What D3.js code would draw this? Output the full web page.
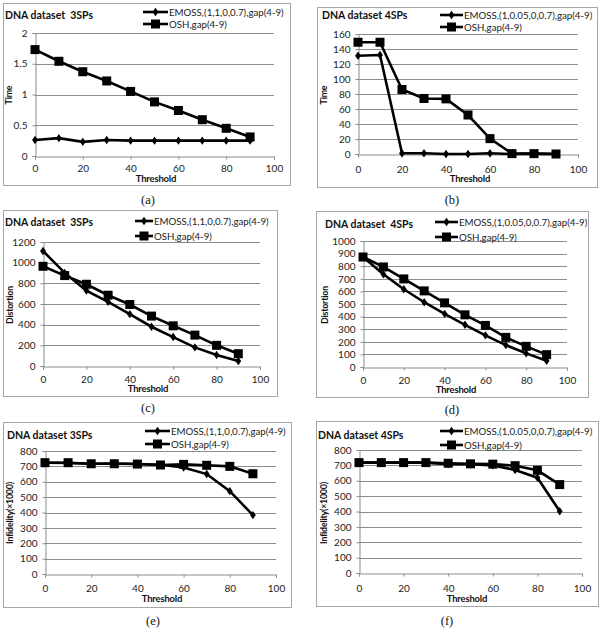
<!DOCTYPE html>
<html>
<head>
<meta charset="utf-8">
<script src="https://cdn.jsdelivr.net/npm/d3@7"></script>
<style>
  html, body { margin: 0; padding: 0; background: #fff; }
  svg { display: block; }
</style>
</head>
<body>
<svg id="chart" width="600" height="628"></svg>
<script>
// thresholds shared by all six panels
const thresholds = [0, 10, 20, 30, 40, 50, 60, 70, 80, 90];
const xTicks = [0, 20, 40, 60, 80, 100];

// (a) time, 3 SPs
const timeEmoss3 = [0.26, 0.29, 0.23, 0.26, 0.25, 0.25, 0.25, 0.25, 0.25, 0.25];
const timeOsh3 = [1.73, 1.54, 1.37, 1.22, 1.05, 0.88, 0.74, 0.59, 0.45, 0.31];
// (b) time, 4 SPs
const timeEmoss4 = [131, 132, 1, 1, 0, 0, 1, 0, 0.5, 0];
const timeOsh4 = [149, 149, 86, 74, 73.5, 52, 20.5, 0.5, 0.5, 0];
// (c) distortion, 3 SPs
const distEmoss3 = [1113, 901, 730, 621, 502, 380, 280, 180, 106, 48];
const distOsh3 = [965, 875, 791, 685, 595, 483, 389, 299, 200, 119];
// (d) distortion, 4 SPs
const distEmoss4 = [873, 736, 617, 514, 422, 335, 251, 174, 108, 50];
const distOsh4 = [873, 794, 699, 604, 509, 414, 330, 235, 164, 98];
// (e) infidelity, 3 SPs
const infEmoss3 = [724, 722, 717, 719, 715, 711, 693, 650, 539, 383];
const infOsh3 = [724, 724, 717, 717, 715, 709, 713, 707, 700, 652];
// (f) infidelity, 4 SPs
const infEmoss4 = [718, 718, 718, 718, 707, 707, 700, 670, 620, 402];
const infOsh4 = [718, 718, 718, 718, 714, 710, 708, 698, 668, 575];

const emossLabel3 = "EMOSS,(1,1,0,0.7),gap(4-9)";
const emossLabel4 = "EMOSS,(1,0.05,0,0.7),gap(4-9)";
const oshLabel = "OSH,gap(4-9)";

const FONT = "Lato, 'Open Sans', sans-serif";
const INK = "#000";
const GRID = "#8c8c8c";
const FRAME = "#a6a6a6";

const panels = [
  { cap: "(a)", title: "DNA dataset  3SPs", yLabel: "Time", emoss: timeEmoss3, osh: timeOsh3, emossLabel: emossLabel3,
    yMax: 2, yStep: 0.5, frame: [3, 3, 290, 185], px: [35, 274], py: [33, 156],
    titleXY: [5, 19], leg: [143, 168, 12, 24], yLabelXY: [9, 95], capXY: [148, 204], tickY: 171, thrXY: [156, 182] },
  { cap: "(b)", title: "DNA dataset 4SPs", yLabel: "Time", emoss: timeEmoss4, osh: timeOsh4, emossLabel: emossLabel4,
    yMax: 160, yStep: 20, frame: [317, 7, 597, 187], px: [358, 578], py: [34, 154],
    titleXY: [322, 19], leg: [440, 463, 15, 27], yLabelXY: [324, 95], capXY: [452, 204], tickY: 172, thrXY: [470, 182] },
  { cap: "(c)", title: "DNA dataset  3SPs", yLabel: "Distortion", emoss: distEmoss3, osh: distOsh3, emossLabel: emossLabel3,
    yMax: 1200, yStep: 200, frame: [3, 210, 277, 396], px: [43, 260], py: [242, 366],
    titleXY: [5, 226], leg: [135, 153, 221, 236], yLabelXY: [10, 305], capXY: [148, 412], tickY: 382, thrXY: [148, 392] },
  { cap: "(d)", title: "DNA dataset  4SPs", yLabel: "Distortion", emoss: distEmoss4, osh: distOsh4, emossLabel: emossLabel4,
    yMax: 1000, yStep: 100, frame: [316, 211, 588, 397], px: [363, 567], py: [241, 367],
    titleXY: [325, 228], leg: [435, 458, 222, 237], yLabelXY: [325, 305], capXY: [452, 414], tickY: 383, thrXY: [456, 393] },
  { cap: "(e)", title: "DNA dataset 3SPs", yLabel: "Infidelity(×1000)", emoss: infEmoss3, osh: infOsh3, emossLabel: emossLabel3,
    yMax: 800, yStep: 100, frame: [3, 422, 291, 607], px: [45, 276], py: [451, 574],
    titleXY: [7, 439], leg: [145, 170, 431, 444], yLabelXY: [10, 513], capXY: [153, 625], tickY: 591, thrXY: [162, 602] },
  { cap: "(f)", title: "DNA dataset 4SPs", yLabel: "Infidelity(×1000)", emoss: infEmoss4, osh: infOsh4, emossLabel: emossLabel4,
    yMax: 800, yStep: 100, frame: [316, 421, 598, 606], px: [359, 582], py: [450, 573],
    titleXY: [318, 439], leg: [440, 463, 431, 445], yLabelXY: [324, 513], capXY: [447, 625], tickY: 591, thrXY: [467, 602] }
];

const svg = d3.select("#chart");

function diamond(sel, size) {
  sel.attr("d", d3.symbol().type(d3.symbolDiamond2).size(size));
}

panels.forEach(p => {
  const g = svg.append("g");

  // outer frame
  g.append("rect")
    .attr("x", p.frame[0] + 0.5).attr("y", p.frame[1] + 0.5)
    .attr("width", p.frame[2] - p.frame[0]).attr("height", p.frame[3] - p.frame[1])
    .attr("fill", "#fff").attr("stroke", FRAME).attr("stroke-width", 1);

  const x = d3.scaleLinear().domain([0, 100]).range(p.px);
  const y = d3.scaleLinear().domain([0, p.yMax]).range([p.py[1], p.py[0]]);
  const yTicks = d3.range(0, p.yMax + p.yStep / 2, p.yStep);

  // grid lines
  g.append("g")
    .selectAll("line")
    .data(yTicks.filter(d => d > 0))
    .join("line")
    .attr("x1", x(0)).attr("x2", x(100))
    .attr("y1", d => Math.round(y(d)) + 0.5).attr("y2", d => Math.round(y(d)) + 0.5)
    .attr("stroke", GRID).attr("stroke-width", 1);

  // axes
  const yAxis = g.append("g")
    .attr("transform", `translate(${Math.round(x(0)) + 0.5},0)`)
    .call(d3.axisLeft(y).tickValues(yTicks).tickSize(3).tickPadding(5)
      .tickFormat(d => d3.format("~g")(d)));
  const xAxis = g.append("g")
    .attr("transform", `translate(0,${Math.round(y(0)) + 0.5})`)
    .call(d3.axisBottom(x).tickValues(xTicks).tickSize(3));

  [yAxis, xAxis].forEach(a => {
    a.select(".domain").attr("stroke", GRID);
    a.selectAll(".tick line").attr("stroke", GRID);
    a.selectAll(".tick text")
      .attr("font-family", FONT).attr("font-size", 10).attr("fill", "#222");
  });
  xAxis.selectAll(".tick text")
    .attr("dy", null)
    .attr("y", p.tickY - Math.round(y(0)));

  // series lines
  const line = d3.line()
    .x((d, i) => x(thresholds[i]))
    .y(d => y(d));

  g.append("path").datum(p.osh)
    .attr("fill", "none").attr("stroke", INK).attr("stroke-width", 2.6)
    .attr("d", line);
  g.append("path").datum(p.emoss)
    .attr("fill", "none").attr("stroke", INK).attr("stroke-width", 2.6)
    .attr("d", line);

  g.selectAll("rect.sq")
    .data(p.osh)
    .join("rect")
    .attr("class", "sq")
    .attr("x", (d, i) => x(thresholds[i]) - 4.5)
    .attr("y", d => y(d) - 4.5)
    .attr("width", 9).attr("height", 9)
    .attr("fill", INK);

  g.selectAll("path.dm")
    .data(p.emoss)
    .join("path")
    .attr("class", "dm")
    .attr("transform", (d, i) => `translate(${x(thresholds[i])},${y(d)}) scale(0.8,1.15)`)
    .call(diamond, 34)
    .attr("fill", INK);

  // title
  g.append("text")
    .attr("x", p.titleXY[0]).attr("y", p.titleXY[1])
    .attr("font-family", FONT).attr("font-size", 10.5).attr("font-weight", 700)
    .attr("fill", "#111")
    .attr("xml:space", "preserve")
    .text(p.title);

  // legend
  const [lx0, lx1, ly0, ly1] = p.leg;
  const lmid = (lx0 + lx1) / 2;
  [[ly0, p.emossLabel, "dm"], [ly1, oshLabel, "sq"]].forEach(([ly, label, kind]) => {
    g.append("line")
      .attr("x1", lx0).attr("x2", lx1).attr("y1", ly).attr("y2", ly)
      .attr("stroke", INK).attr("stroke-width", 2.6);
    if (kind === "sq") {
      g.append("rect").attr("x", lmid - 4.5).attr("y", ly - 4.5)
        .attr("width", 9).attr("height", 9).attr("fill", INK);
    } else {
      g.append("path").attr("transform", `translate(${lmid},${ly}) scale(0.8,1.15)`)
        .call(diamond, 34).attr("fill", INK);
    }
    g.append("text")
      .attr("x", lx1 + 1).attr("y", ly + 3.5)
      .attr("font-family", FONT).attr("font-size", 9.7).attr("fill", "#222")
      .text(label);
  });

  // axis titles
  g.append("text")
    .attr("x", p.thrXY[0]).attr("y", p.thrXY[1])
    .attr("text-anchor", "middle")
    .attr("font-family", FONT).attr("font-size", 9.5).attr("font-weight", 700)
    .attr("letter-spacing", "-0.2px")
    .attr("fill", "#111")
    .text("Threshold");

  g.append("text")
    .attr("transform", `translate(${p.yLabelXY[0] + 3},${p.yLabelXY[1]}) rotate(-90)`)
    .attr("text-anchor", "middle")
    .attr("font-family", FONT).attr("font-size", 8.8).attr("font-weight", 700)
    .attr("letter-spacing", "-0.2px")
    .attr("fill", "#111")
    .text(p.yLabel);

  // caption
  svg.append("text")
    .attr("x", p.capXY[0]).attr("y", p.capXY[1])
    .attr("text-anchor", "middle")
    .attr("font-family", "'Liberation Serif', serif").attr("font-size", 12.5)
    .attr("fill", "#111")
    .text(p.cap);
});
</script>
</body>
</html>
